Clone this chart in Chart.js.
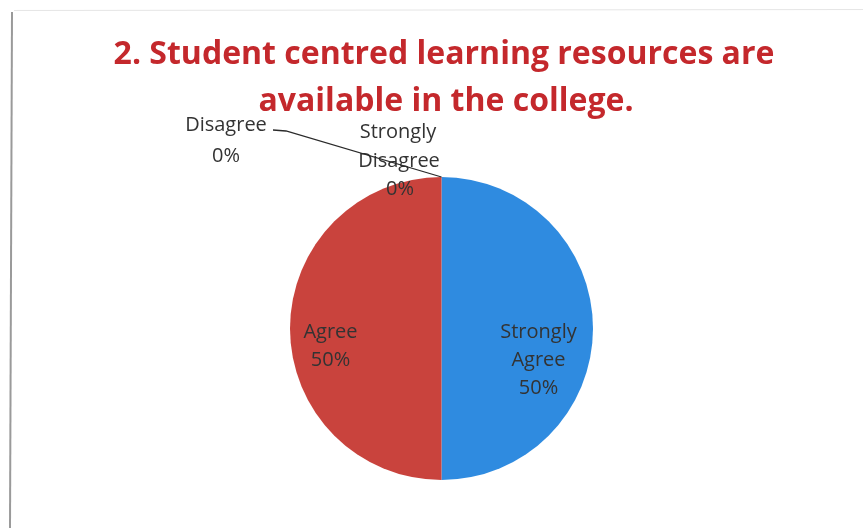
<!DOCTYPE html>
<html>
<head>
<meta charset="utf-8">
<script src="https://cdn.jsdelivr.net/npm/chart.js@4/dist/chart.umd.min.js"></script>
<style>
  html, body { margin: 0; padding: 0; background: #fff; }
  #wrap { width: 863px; height: 528px; position: relative; }
</style>
</head>
<body>
<div id="wrap"><canvas id="c" width="863" height="528"></canvas></div>
<script>
// data
const labels = ['Strongly Agree', 'Agree', 'Disagree', 'Strongly Disagree']
const values = [50, 50, 0, 0]
const colors = ['#2f8be0', '#c9433d', '#8cb04a', '#7c5fa0']
const titleLines = ['2. Student centred learning resources are', 'available in the college.']

const textColor = '#333333'

// page frame + title
const backdrop = {
  id: 'backdrop',
  beforeDraw(chart) {
    const {ctx} = chart
    ctx.save()
    ctx.fillStyle = 'white'
    ctx.fillRect(0, 0, chart.width, chart.height)
    ctx.strokeStyle = '#9a9a9a'
    ctx.lineWidth = 2
    ctx.beginPath()
    ctx.moveTo(12, 12)
    ctx.lineTo(10, 528)
    ctx.stroke()
    ctx.strokeStyle = '#e6e6e6'
    ctx.lineWidth = 1
    ctx.beginPath()
    ctx.moveTo(14, 10.5)
    ctx.lineTo(863, 9.5)
    ctx.stroke()

    ctx.fillStyle = '#c4282c'
    ctx.font = 'bold 32px "Open Sans"'
    ctx.textAlign = 'center'
    ctx.textBaseline = 'middle'
    ctx.fillText(titleLines[0], 444, 55)
    ctx.fillText(titleLines[1], 446, 102)
    ctx.restore()
  }
}

// data labels in the style of the office chart
const sliceLabels = {
  id: 'sliceLabels',
  afterDatasetsDraw(chart) {
    const {ctx} = chart
    const arcs = chart.getDatasetMeta(0).data
    const cx = arcs[0].x, cy = arcs[0].y, r = arcs[0].outerRadius
    const total = values.reduce((a, b) => a + b, 0)
    const pct = values.map(v => Math.round(v / total * 100) + '%')
    // top of the pie, where the 0% slices sit
    const topX = cx, topY = cy - r

    ctx.save()
    ctx.fillStyle = textColor
    ctx.textAlign = 'center'
    ctx.textBaseline = 'middle'
    ctx.font = '20px "Open Sans"'

    // Strongly Agree (inside, right)
    ctx.fillText('Strongly', cx + 97, cy + 4)
    ctx.fillText('Agree', cx + 97, cy + 32)
    ctx.fillText(pct[0], cx + 97, cy + 60)
    // Agree (inside, left)
    ctx.fillText('Agree', cx - 111, cy + 4)
    ctx.fillText(pct[1], cx - 111, cy + 32)

    // Disagree (outside, with leader)
    ctx.fillText('Disagree', 226, 125)
    ctx.fillText(pct[2], 226, 156)
    // Strongly Disagree
    ctx.fillText('Strongly', 398, 132)
    ctx.fillText('Disagree', 399, 161)
    ctx.fillText(pct[3], 400, 189)

    ctx.strokeStyle = '#2a2a2a'
    ctx.lineWidth = 1.3
    ctx.beginPath()
    ctx.moveTo(273, 130)
    ctx.lineTo(286, 131)
    ctx.lineTo(topX, topY)
    ctx.stroke()
    ctx.restore()
  }
}

new Chart(document.getElementById('c'), {
  type: 'pie',
  data: {
    labels: labels,
    datasets: [{
      data: values,
      backgroundColor: colors,
      borderWidth: 0
    }]
  },
  options: {
    responsive: false,
    animation: false,
    devicePixelRatio: 1,
    layout: {
      padding: {top: 177, bottom: 48, left: 20, right: 0}
    },
    plugins: {
      legend: {display: false},
      title: {display: false},
      tooltip: {enabled: false}
    }
  },
  plugins: [backdrop, sliceLabels]
})
</script>
</body>
</html>
